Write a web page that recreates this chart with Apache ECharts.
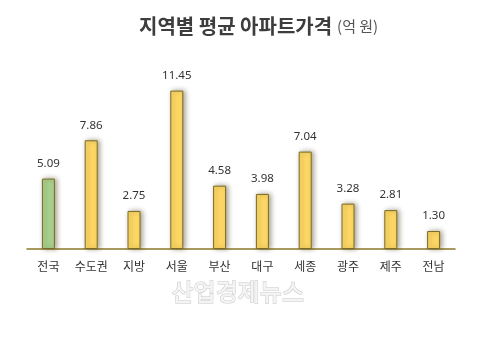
<!DOCTYPE html>
<html><head><meta charset="utf-8">
<script src="https://cdn.jsdelivr.net/npm/echarts@6/dist/echarts.min.js"></script>
<style>html,body{margin:0;padding:0;background:#fff}#c{width:480px;height:355px}</style>
</head><body><div id="c"></div>
<script>
const categories = ['전국','수도권','지방','서울','부산','대구','세종','광주','제주','전남'];
const values = [5.09,7.86,2.75,11.45,4.58,3.98,7.04,3.28,2.81,1.30];
const titleMain = '지역별 평균 아파트가격';
const titleUnit = '(억 원)';
const watermark = '산업경제뉴스';

const chart = echarts.init(document.getElementById('c'));
chart.setOption({
  backgroundColor: '#fff',
  animation: false,
  title: {
    text: '{a|' + titleMain + '} {b|' + titleUnit + '}',
    left: 134, top: 11,
    textStyle: { rich: {
      a: { fontFamily: 'Noto Sans CJK KR', fontWeight: 'bold', fontSize: 20, color: '#3d3d3d' },
      b: { fontFamily: 'Noto Sans CJK KR', fontWeight: 'normal', fontSize: 15, color: '#555' }
    } }
  },
  grid: { left: 27, right: 25, top: 83, bottom: 106 },
  xAxis: {
    type: 'category', data: categories,
    axisLine: { lineStyle: { color: '#8c7a2a', width: 1.5 } },
    axisTick: { show: false },
    axisLabel: { interval: 0, color: '#333', fontSize: 12, fontFamily: 'Noto Sans CJK KR', margin: 11 }
  },
  yAxis: { type: 'value', min: 0, max: 12, show: false, splitLine: { show: false } },
  series: [{
    type: 'bar', barWidth: 13,
    data: values.map((v, i) => ({ value: v, itemStyle: { color: i === 0 ? '#a9d18e' : '#ffd966' } })),
    itemStyle: { borderColor: '#7a6a28', borderWidth: 1, shadowColor: 'rgba(60,50,0,0.45)', shadowBlur: 5, shadowOffsetX: 2, shadowOffsetY: 0 },
    label: { show: true, position: 'top', distance: 9, color: '#333', fontSize: 11.5, fontFamily: 'Noto Sans',
      formatter: p => p.value.toFixed(2) }
  }],
  graphic: [{
    type: 'text', left: 171, top: 279,
    style: { text: watermark, font: '500 24px "Noto Sans CJK KR"', fill: '#f4f4f4', stroke: '#c8c8c8', lineWidth: 1,
      shadowColor: 'rgba(0,0,0,0.2)', shadowBlur: 2, shadowOffsetX: 1, shadowOffsetY: 1 }
  }]
});
</script></body></html>
